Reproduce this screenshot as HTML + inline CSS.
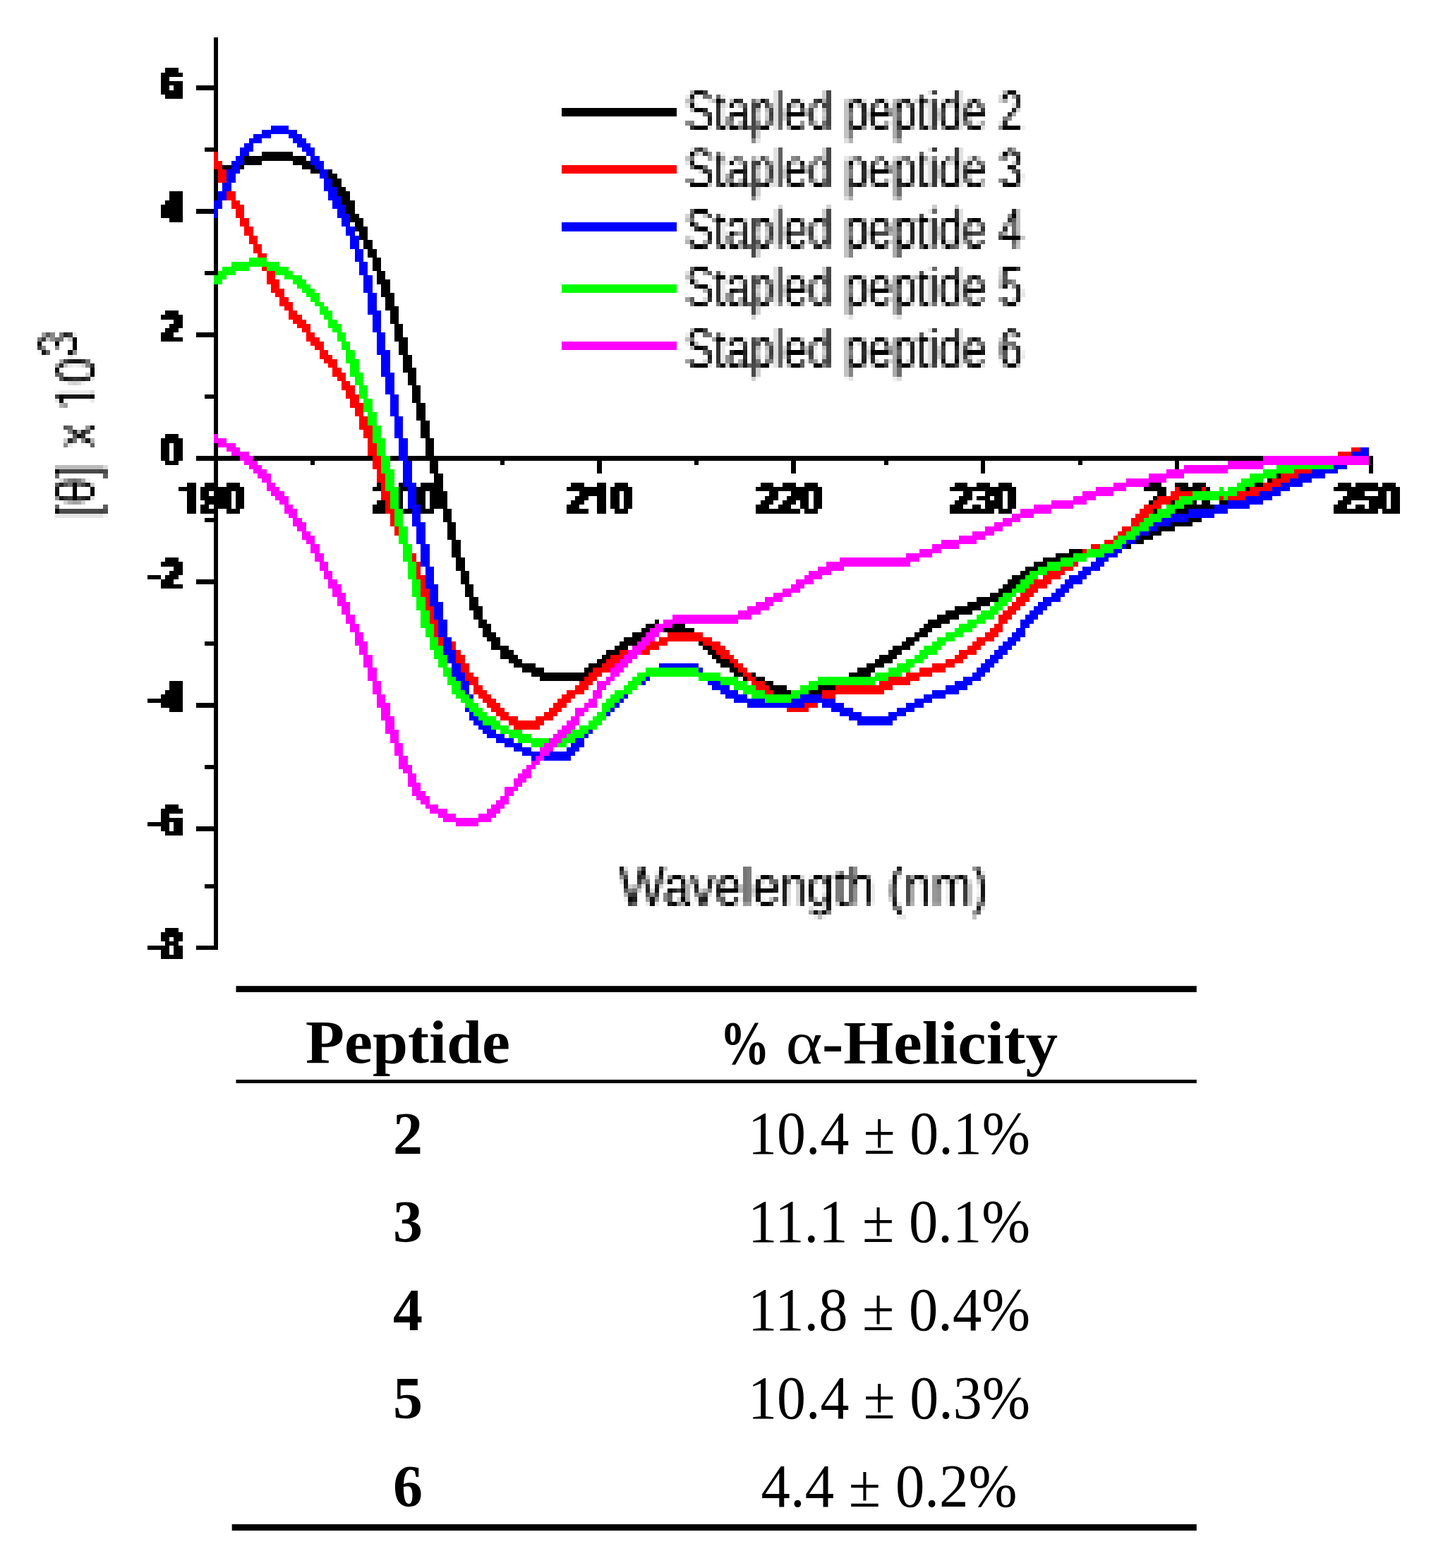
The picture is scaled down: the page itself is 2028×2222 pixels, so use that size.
<!DOCTYPE html>
<html lang="en">
<head>
<meta charset="utf-8">
<title>CD spectra of stapled peptides</title>
<style>
html,body{margin:0;padding:0;background:#fff}
svg{display:block}
.tk{font-family:"Liberation Sans", Arial, sans-serif;font-weight:bold;font-size:60px;fill:#000;stroke:#000;stroke-width:0.6px}
.lg{font-family:"Liberation Sans", Arial, sans-serif;font-size:77px;fill:#000}
.th{font-family:"Liberation Serif", "Times New Roman", serif;font-weight:bold;font-size:87px;fill:#000}
.td{font-family:"Liberation Serif", "Times New Roman", serif;font-size:87px;fill:#000}
</style>
</head>
<body>
<svg width="2028" height="2222" viewBox="0 0 2028 2222">
<defs>
<filter id="pb" filterUnits="userSpaceOnUse" primitiveUnits="userSpaceOnUse" x="0" y="0" width="2028" height="1390" color-interpolation-filters="sRGB">
<feGaussianBlur in="SourceGraphic" stdDeviation="0.7" result="b"/>
<feComponentTransfer in="b" result="t"><feFuncA type="discrete" tableValues="0 0 0 0 1 1 1 1 1 1"/></feComponentTransfer>
<feFlood x="6" y="6" width="1" height="1" flood-color="#000" result="pba00"/><feFlood x="12" y="6" width="1" height="1" flood-color="#000" result="pba01"/><feFlood x="18" y="6" width="1" height="1" flood-color="#000" result="pba02"/><feFlood x="24" y="6" width="1" height="1" flood-color="#000" result="pba03"/><feFlood x="6" y="12" width="1" height="1" flood-color="#000" result="pba10"/><feFlood x="12" y="12" width="1" height="1" flood-color="#000" result="pba11"/><feFlood x="18" y="12" width="1" height="1" flood-color="#000" result="pba12"/><feFlood x="24" y="12" width="1" height="1" flood-color="#000" result="pba13"/><feFlood x="6" y="18" width="1" height="1" flood-color="#000" result="pba20"/><feFlood x="12" y="18" width="1" height="1" flood-color="#000" result="pba21"/><feFlood x="18" y="18" width="1" height="1" flood-color="#000" result="pba22"/><feFlood x="24" y="18" width="1" height="1" flood-color="#000" result="pba23"/><feFlood x="6" y="24" width="1" height="1" flood-color="#000" result="pba30"/><feFlood x="12" y="24" width="1" height="1" flood-color="#000" result="pba31"/><feFlood x="18" y="24" width="1" height="1" flood-color="#000" result="pba32"/><feFlood x="24" y="24" width="1" height="1" flood-color="#000" result="pba33"/>
<feMerge x="3" y="3" width="25" height="25" result="da"><feMergeNode in="pba00"/><feMergeNode in="pba01"/><feMergeNode in="pba02"/><feMergeNode in="pba03"/><feMergeNode in="pba10"/><feMergeNode in="pba11"/><feMergeNode in="pba12"/><feMergeNode in="pba13"/><feMergeNode in="pba20"/><feMergeNode in="pba21"/><feMergeNode in="pba22"/><feMergeNode in="pba23"/><feMergeNode in="pba30"/><feMergeNode in="pba31"/><feMergeNode in="pba32"/><feMergeNode in="pba33"/></feMerge>
<feTile in="da" x="0" y="0" width="2028" height="1390" result="ga"/>
<feComposite in="t" in2="ga" operator="in" result="s0"/>
<feOffset in="s0" dx="6" dy="0" result="o1"/>
<feMorphology in="o1" operator="dilate" radius="1" result="o2"/>
<feComposite in="o2" in2="ga" operator="in" result="o3"/>
<feMerge result="s0m"><feMergeNode in="s0"/><feMergeNode in="o3"/></feMerge>
<feMorphology in="s0m" operator="dilate" radius="1" result="s1"/>
<feFlood x="5" y="5" width="2" height="2" flood-color="#000" result="pbb00"/><feFlood x="11" y="5" width="2" height="2" flood-color="#000" result="pbb01"/><feFlood x="17" y="5" width="2" height="2" flood-color="#000" result="pbb02"/><feFlood x="23" y="5" width="3" height="2" flood-color="#000" result="pbb03"/><feFlood x="5" y="11" width="2" height="2" flood-color="#000" result="pbb10"/><feFlood x="11" y="11" width="2" height="2" flood-color="#000" result="pbb11"/><feFlood x="17" y="11" width="2" height="2" flood-color="#000" result="pbb12"/><feFlood x="23" y="11" width="3" height="2" flood-color="#000" result="pbb13"/><feFlood x="5" y="17" width="2" height="2" flood-color="#000" result="pbb20"/><feFlood x="11" y="17" width="2" height="2" flood-color="#000" result="pbb21"/><feFlood x="17" y="17" width="2" height="2" flood-color="#000" result="pbb22"/><feFlood x="23" y="17" width="3" height="2" flood-color="#000" result="pbb23"/><feFlood x="5" y="23" width="2" height="3" flood-color="#000" result="pbb30"/><feFlood x="11" y="23" width="2" height="3" flood-color="#000" result="pbb31"/><feFlood x="17" y="23" width="2" height="3" flood-color="#000" result="pbb32"/><feFlood x="23" y="23" width="3" height="3" flood-color="#000" result="pbb33"/>
<feMerge x="3" y="3" width="25" height="25" result="db"><feMergeNode in="pbb00"/><feMergeNode in="pbb01"/><feMergeNode in="pbb02"/><feMergeNode in="pbb03"/><feMergeNode in="pbb10"/><feMergeNode in="pbb11"/><feMergeNode in="pbb12"/><feMergeNode in="pbb13"/><feMergeNode in="pbb20"/><feMergeNode in="pbb21"/><feMergeNode in="pbb22"/><feMergeNode in="pbb23"/><feMergeNode in="pbb30"/><feMergeNode in="pbb31"/><feMergeNode in="pbb32"/><feMergeNode in="pbb33"/></feMerge>
<feTile in="db" x="0" y="0" width="2028" height="1390" result="gb"/>
<feComposite in="s1" in2="gb" operator="in" result="s2"/>
<feMorphology in="s2" operator="dilate" radius="2"/>
</filter>
<filter id="pg" filterUnits="userSpaceOnUse" primitiveUnits="userSpaceOnUse" x="0" y="0" width="2028" height="1390" color-interpolation-filters="sRGB">
<feGaussianBlur in="SourceGraphic" stdDeviation="2.2 1.1" result="b"/>
<feComponentTransfer in="b" result="t"><feFuncA type="linear" slope="1.2" intercept="-0.08"/></feComponentTransfer>
<feFlood x="6" y="6" width="1" height="1" flood-color="#000" result="pga00"/><feFlood x="12" y="6" width="1" height="1" flood-color="#000" result="pga01"/><feFlood x="18" y="6" width="1" height="1" flood-color="#000" result="pga02"/><feFlood x="24" y="6" width="1" height="1" flood-color="#000" result="pga03"/><feFlood x="6" y="12" width="1" height="1" flood-color="#000" result="pga10"/><feFlood x="12" y="12" width="1" height="1" flood-color="#000" result="pga11"/><feFlood x="18" y="12" width="1" height="1" flood-color="#000" result="pga12"/><feFlood x="24" y="12" width="1" height="1" flood-color="#000" result="pga13"/><feFlood x="6" y="18" width="1" height="1" flood-color="#000" result="pga20"/><feFlood x="12" y="18" width="1" height="1" flood-color="#000" result="pga21"/><feFlood x="18" y="18" width="1" height="1" flood-color="#000" result="pga22"/><feFlood x="24" y="18" width="1" height="1" flood-color="#000" result="pga23"/><feFlood x="6" y="24" width="1" height="1" flood-color="#000" result="pga30"/><feFlood x="12" y="24" width="1" height="1" flood-color="#000" result="pga31"/><feFlood x="18" y="24" width="1" height="1" flood-color="#000" result="pga32"/><feFlood x="24" y="24" width="1" height="1" flood-color="#000" result="pga33"/>
<feMerge x="3" y="3" width="25" height="25" result="da"><feMergeNode in="pga00"/><feMergeNode in="pga01"/><feMergeNode in="pga02"/><feMergeNode in="pga03"/><feMergeNode in="pga10"/><feMergeNode in="pga11"/><feMergeNode in="pga12"/><feMergeNode in="pga13"/><feMergeNode in="pga20"/><feMergeNode in="pga21"/><feMergeNode in="pga22"/><feMergeNode in="pga23"/><feMergeNode in="pga30"/><feMergeNode in="pga31"/><feMergeNode in="pga32"/><feMergeNode in="pga33"/></feMerge>
<feTile in="da" x="0" y="0" width="2028" height="1390" result="ga"/>
<feComposite in="t" in2="ga" operator="in" result="s0"/>
<feMorphology in="s0" operator="dilate" radius="1" result="s1"/>
<feFlood x="5" y="5" width="2" height="2" flood-color="#000" result="pgb00"/><feFlood x="11" y="5" width="2" height="2" flood-color="#000" result="pgb01"/><feFlood x="17" y="5" width="2" height="2" flood-color="#000" result="pgb02"/><feFlood x="23" y="5" width="3" height="2" flood-color="#000" result="pgb03"/><feFlood x="5" y="11" width="2" height="2" flood-color="#000" result="pgb10"/><feFlood x="11" y="11" width="2" height="2" flood-color="#000" result="pgb11"/><feFlood x="17" y="11" width="2" height="2" flood-color="#000" result="pgb12"/><feFlood x="23" y="11" width="3" height="2" flood-color="#000" result="pgb13"/><feFlood x="5" y="17" width="2" height="2" flood-color="#000" result="pgb20"/><feFlood x="11" y="17" width="2" height="2" flood-color="#000" result="pgb21"/><feFlood x="17" y="17" width="2" height="2" flood-color="#000" result="pgb22"/><feFlood x="23" y="17" width="3" height="2" flood-color="#000" result="pgb23"/><feFlood x="5" y="23" width="2" height="3" flood-color="#000" result="pgb30"/><feFlood x="11" y="23" width="2" height="3" flood-color="#000" result="pgb31"/><feFlood x="17" y="23" width="2" height="3" flood-color="#000" result="pgb32"/><feFlood x="23" y="23" width="3" height="3" flood-color="#000" result="pgb33"/>
<feMerge x="3" y="3" width="25" height="25" result="db"><feMergeNode in="pgb00"/><feMergeNode in="pgb01"/><feMergeNode in="pgb02"/><feMergeNode in="pgb03"/><feMergeNode in="pgb10"/><feMergeNode in="pgb11"/><feMergeNode in="pgb12"/><feMergeNode in="pgb13"/><feMergeNode in="pgb20"/><feMergeNode in="pgb21"/><feMergeNode in="pgb22"/><feMergeNode in="pgb23"/><feMergeNode in="pgb30"/><feMergeNode in="pgb31"/><feMergeNode in="pgb32"/><feMergeNode in="pgb33"/></feMerge>
<feTile in="db" x="0" y="0" width="2028" height="1390" result="gb"/>
<feComposite in="s1" in2="gb" operator="in" result="s2"/>
<feMorphology in="s2" operator="dilate" radius="2"/>
</filter>
<mask id="foot" maskUnits="userSpaceOnUse" x="0" y="600" width="2028" height="200">
<rect x="0" y="600" width="2028" height="200" fill="#fff"/>
<rect x="250.00" y="720.25" width="14.70" height="11.25" fill="#000"/>
<rect x="272.55" y="720.25" width="8.25" height="11.25" fill="#000"/>
<rect x="831.25" y="720.25" width="14.70" height="11.25" fill="#000"/>
<rect x="853.80" y="720.25" width="8.25" height="11.25" fill="#000"/>
</mask>
<mask id="foot2" maskUnits="userSpaceOnUse" x="0" y="400" width="200" height="400"><rect x="0" y="400" width="200" height="400" fill="#fff"/><rect x="126" y="543" width="10" height="15.5" fill="#000"/><rect x="126" y="566" width="10" height="14" fill="#000"/></mask>
<filter id="pv" filterUnits="userSpaceOnUse" primitiveUnits="userSpaceOnUse" x="0" y="0" width="2028" height="1390" color-interpolation-filters="sRGB">
<feGaussianBlur in="SourceGraphic" stdDeviation="1.1 2.2" result="b"/>
<feComponentTransfer in="b" result="t"><feFuncA type="linear" slope="1.2" intercept="-0.08"/></feComponentTransfer>
<feFlood x="6" y="6" width="1" height="1" flood-color="#000" result="pva00"/><feFlood x="12" y="6" width="1" height="1" flood-color="#000" result="pva01"/><feFlood x="18" y="6" width="1" height="1" flood-color="#000" result="pva02"/><feFlood x="24" y="6" width="1" height="1" flood-color="#000" result="pva03"/><feFlood x="6" y="12" width="1" height="1" flood-color="#000" result="pva10"/><feFlood x="12" y="12" width="1" height="1" flood-color="#000" result="pva11"/><feFlood x="18" y="12" width="1" height="1" flood-color="#000" result="pva12"/><feFlood x="24" y="12" width="1" height="1" flood-color="#000" result="pva13"/><feFlood x="6" y="18" width="1" height="1" flood-color="#000" result="pva20"/><feFlood x="12" y="18" width="1" height="1" flood-color="#000" result="pva21"/><feFlood x="18" y="18" width="1" height="1" flood-color="#000" result="pva22"/><feFlood x="24" y="18" width="1" height="1" flood-color="#000" result="pva23"/><feFlood x="6" y="24" width="1" height="1" flood-color="#000" result="pva30"/><feFlood x="12" y="24" width="1" height="1" flood-color="#000" result="pva31"/><feFlood x="18" y="24" width="1" height="1" flood-color="#000" result="pva32"/><feFlood x="24" y="24" width="1" height="1" flood-color="#000" result="pva33"/>
<feMerge x="3" y="3" width="25" height="25" result="da"><feMergeNode in="pva00"/><feMergeNode in="pva01"/><feMergeNode in="pva02"/><feMergeNode in="pva03"/><feMergeNode in="pva10"/><feMergeNode in="pva11"/><feMergeNode in="pva12"/><feMergeNode in="pva13"/><feMergeNode in="pva20"/><feMergeNode in="pva21"/><feMergeNode in="pva22"/><feMergeNode in="pva23"/><feMergeNode in="pva30"/><feMergeNode in="pva31"/><feMergeNode in="pva32"/><feMergeNode in="pva33"/></feMerge>
<feTile in="da" x="0" y="0" width="2028" height="1390" result="ga"/>
<feComposite in="t" in2="ga" operator="in" result="s0"/>
<feMorphology in="s0" operator="dilate" radius="1" result="s1"/>
<feFlood x="5" y="5" width="2" height="2" flood-color="#000" result="pvb00"/><feFlood x="11" y="5" width="2" height="2" flood-color="#000" result="pvb01"/><feFlood x="17" y="5" width="2" height="2" flood-color="#000" result="pvb02"/><feFlood x="23" y="5" width="3" height="2" flood-color="#000" result="pvb03"/><feFlood x="5" y="11" width="2" height="2" flood-color="#000" result="pvb10"/><feFlood x="11" y="11" width="2" height="2" flood-color="#000" result="pvb11"/><feFlood x="17" y="11" width="2" height="2" flood-color="#000" result="pvb12"/><feFlood x="23" y="11" width="3" height="2" flood-color="#000" result="pvb13"/><feFlood x="5" y="17" width="2" height="2" flood-color="#000" result="pvb20"/><feFlood x="11" y="17" width="2" height="2" flood-color="#000" result="pvb21"/><feFlood x="17" y="17" width="2" height="2" flood-color="#000" result="pvb22"/><feFlood x="23" y="17" width="3" height="2" flood-color="#000" result="pvb23"/><feFlood x="5" y="23" width="2" height="3" flood-color="#000" result="pvb30"/><feFlood x="11" y="23" width="2" height="3" flood-color="#000" result="pvb31"/><feFlood x="17" y="23" width="2" height="3" flood-color="#000" result="pvb32"/><feFlood x="23" y="23" width="3" height="3" flood-color="#000" result="pvb33"/>
<feMerge x="3" y="3" width="25" height="25" result="db"><feMergeNode in="pvb00"/><feMergeNode in="pvb01"/><feMergeNode in="pvb02"/><feMergeNode in="pvb03"/><feMergeNode in="pvb10"/><feMergeNode in="pvb11"/><feMergeNode in="pvb12"/><feMergeNode in="pvb13"/><feMergeNode in="pvb20"/><feMergeNode in="pvb21"/><feMergeNode in="pvb22"/><feMergeNode in="pvb23"/><feMergeNode in="pvb30"/><feMergeNode in="pvb31"/><feMergeNode in="pvb32"/><feMergeNode in="pvb33"/></feMerge>
<feTile in="db" x="0" y="0" width="2028" height="1390" result="gb"/>
<feComposite in="s1" in2="gb" operator="in" result="s2"/>
<feMorphology in="s2" operator="dilate" radius="2"/>
</filter>
</defs>
<rect width="2028" height="2222" fill="#ffffff"/>
<g class="tk" filter="url(#pb)">
<text transform="scale(0.877 1)" x="258.04" y="140.10">6</text>
<text transform="scale(0.877 1)" x="258.04" y="315.10">4</text>
<text transform="scale(0.877 1)" x="258.04" y="483.85">2</text>
<text transform="scale(0.877 1)" x="258.04" y="658.85">0</text>
<text transform="scale(0.877 1)" x="236.66 258.04" y="833.85">-2</text>
<text transform="scale(0.877 1)" x="236.66 258.04" y="1008.85">-4</text>
<text transform="scale(0.877 1)" x="236.66 258.04" y="1183.85">-6</text>
<text transform="scale(0.877 1)" x="236.66 258.04" y="1358.85">-8</text>
<g mask="url(#foot)"><text transform="scale(0.877 1)" x="286.55 322.18 357.81" y="727.60">190</text></g>
<text transform="scale(0.877 1)" x="600.11 635.75 671.38" y="727.60">200</text>
<g mask="url(#foot)"><text transform="scale(0.877 1)" x="913.68 949.32 984.95" y="727.60">210</text></g>
<text transform="scale(0.877 1)" x="1220.13 1255.76 1291.39" y="727.60">220</text>
<text transform="scale(0.877 1)" x="1533.69 1569.33 1604.96" y="727.60">230</text>
<text transform="scale(0.877 1)" x="1847.26 1882.90 1918.53" y="727.60">240</text>
<text transform="scale(0.877 1)" x="2153.71 2189.34 2224.97" y="727.60">250</text>
</g>
<g shape-rendering="crispEdges">
<path d="M303 53h6v1293h-6zM278 646h1668v7h-1668zM278 121h25v7h-25zM278 296h25v7h-25zM278 471h25v7h-25zM278 646h25v7h-25zM278 821h25v7h-25zM278 996h25v7h-25zM278 1171h25v7h-25zM278 1340h25v6h-25zM290 209h13v6h-13zM290 384h13v6h-13zM290 559h13v6h-13zM290 734h13v6h-13zM290 909h13v6h-13zM290 1084h13v6h-13zM290 1253h13v6h-13zM578 653h6v18h-6zM846 653h7v18h-7zM1121 653h7v18h-7zM1390 653h6v18h-6zM1665 653h6v18h-6zM1940 653h6v18h-6zM440 653h6v6h-6zM709 653h6v6h-6zM984 653h6v6h-6zM1253 653h6v6h-6zM1528 653h6v6h-6zM1803 653h6v6h-6z" fill="#000"/>
<path d="M796 153h163v12h-163z" fill="#000000"/>
<path d="M796 234h163v12h-163z" fill="#ff0000"/>
<path d="M796 315h163v13h-163z" fill="#0000ff"/>
<path d="M796 403h163v12h-163z" fill="#00ff00"/>
<path d="M796 484h163v12h-163z" fill="#ff00ff"/>
<path d="M371 215h44v6h-44zM346 221h88v7h-88zM328 228h43v6h-43zM415 228h25v6h-25zM315 234h31v6h-31zM428 234h25v6h-25zM303 240h25v6h-25zM440 240h31v6h-31zM303 246h12v7h-12zM453 246h25v7h-25zM465 253h19v6h-19zM471 259h13v6h-13zM478 265h12v6h-12zM478 271h18v7h-18zM484 278h12v6h-12zM484 284h19v6h-19zM490 290h13v6h-13zM490 296h13v7h-13zM496 303h13v6h-13zM496 309h19v6h-19zM503 315h12v6h-12zM503 321h18v7h-18zM509 328h12v6h-12zM509 334h12v6h-12zM515 340h13v6h-13zM515 346h13v7h-13zM521 353h13v6h-13zM521 359h13v6h-13zM528 365h12v6h-12zM528 371h12v7h-12zM528 378h12v6h-12zM534 384h12v6h-12zM534 390h12v6h-12zM534 396h19v7h-19zM540 403h13v6h-13zM540 409h13v6h-13zM540 415h19v6h-19zM546 421h13v7h-13zM546 428h13v6h-13zM546 434h19v6h-19zM553 440h12v6h-12zM553 446h12v7h-12zM553 453h12v6h-12zM559 459h12v6h-12zM559 465h12v6h-12zM559 471h12v7h-12zM559 478h19v6h-19zM565 484h13v6h-13zM565 490h13v6h-13zM565 496h13v7h-13zM571 503h13v6h-13zM571 509h13v6h-13zM571 515h13v6h-13zM571 521h19v7h-19zM578 528h12v6h-12zM578 534h12v6h-12zM578 540h12v6h-12zM584 546h12v7h-12zM584 553h12v6h-12zM584 559h12v6h-12zM584 565h12v6h-12zM590 571h13v7h-13zM590 578h13v6h-13zM590 584h13v6h-13zM590 590h13v6h-13zM596 596h13v7h-13zM596 603h13v6h-13zM596 609h13v6h-13zM596 615h13v6h-13zM603 621h12v7h-12zM603 628h12v6h-12zM603 634h12v6h-12zM603 640h12v6h-12zM609 646h12v7h-12zM609 653h12v6h-12zM609 659h12v6h-12zM609 665h12v6h-12zM1828 665h18v6h-18zM615 671h13v7h-13zM1809 671h44v7h-44zM615 678h13v6h-13zM1796 678h32v6h-32zM615 684h13v6h-13zM1778 684h31v6h-31zM615 690h13v6h-13zM1765 690h31v6h-31zM621 696h13v7h-13zM1753 696h31v7h-31zM621 703h13v6h-13zM1734 703h37v6h-37zM621 709h13v6h-13zM1728 709h25v6h-25zM621 715h13v6h-13zM1696 715h13v6h-13zM1715 715h25v6h-25zM628 721h12v7h-12zM1690 721h38v7h-38zM628 728h12v6h-12zM1690 728h31v6h-31zM628 734h12v6h-12zM1665 734h38v6h-38zM634 740h12v6h-12zM1646 740h44v6h-44zM634 746h12v7h-12zM1628 746h37v7h-37zM634 753h12v6h-12zM1615 753h31v6h-31zM634 759h12v6h-12zM1603 759h31v6h-31zM640 765h13v6h-13zM1571 765h50v6h-50zM640 771h13v7h-13zM1546 771h57v7h-57zM640 778h13v6h-13zM1515 778h56v6h-56zM640 784h13v6h-13zM1496 784h50v6h-50zM646 790h13v6h-13zM1478 790h43v6h-43zM646 796h13v7h-13zM1465 796h31v7h-31zM646 803h13v6h-13zM1453 803h25v6h-25zM653 809h12v6h-12zM1446 809h25v6h-25zM653 815h12v6h-12zM1434 815h25v6h-25zM653 821h12v7h-12zM1428 821h18v7h-18zM659 828h12v6h-12zM1421 828h19v6h-19zM659 834h12v6h-12zM1415 834h19v6h-19zM659 840h12v6h-12zM1403 840h18v6h-18zM665 846h13v7h-13zM1384 846h31v7h-31zM665 853h13v6h-13zM1371 853h32v6h-32zM665 859h19v6h-19zM1353 859h37v6h-37zM671 865h13v6h-13zM1340 865h38v6h-38zM671 871h13v7h-13zM1328 871h31v7h-31zM678 878h12v6h-12zM928 878h6v6h-6zM1315 878h31v6h-31zM678 884h18v6h-18zM915 884h56v6h-56zM1309 884h25v6h-25zM684 890h12v6h-12zM909 890h19v6h-19zM934 890h50v6h-50zM1303 890h18v6h-18zM684 896h19v7h-19zM896 896h25v7h-25zM971 896h25v7h-25zM1296 896h19v7h-19zM690 903h19v6h-19zM884 903h25v6h-25zM984 903h19v6h-19zM1284 903h19v6h-19zM696 909h13v6h-13zM878 909h25v6h-25zM990 909h19v6h-19zM1278 909h18v6h-18zM696 915h25v6h-25zM871 915h19v6h-19zM996 915h19v6h-19zM1265 915h25v6h-25zM709 921h19v7h-19zM859 921h19v7h-19zM1003 921h18v7h-18zM1259 921h19v7h-19zM709 928h25v6h-25zM853 928h18v6h-18zM1009 928h19v6h-19zM1246 928h25v6h-25zM721 934h19v6h-19zM846 934h19v6h-19zM1015 934h19v6h-19zM1240 934h25v6h-25zM728 940h31v6h-31zM834 940h25v6h-25zM1021 940h25v6h-25zM1228 940h25v6h-25zM740 946h31v7h-31zM828 946h18v7h-18zM1034 946h19v7h-19zM1215 946h25v7h-25zM753 953h87v6h-87zM1040 953h31v6h-31zM1203 953h31v6h-31zM765 959h69v6h-69zM1053 959h31v6h-31zM1190 959h31v6h-31zM1071 965h25v6h-25zM1171 965h38v6h-38zM1084 971h31v7h-31zM1153 971h37v7h-37zM1090 978h88v6h-88zM1109 984h44v6h-44z" fill="#000000"/>
<path d="M303 215h6v6h-6zM303 221h6v7h-6zM303 228h12v6h-12zM303 234h12v6h-12zM309 240h12v6h-12zM309 246h12v7h-12zM309 253h19v6h-19zM315 259h13v6h-13zM315 265h13v6h-13zM321 271h13v7h-13zM321 278h13v6h-13zM328 284h12v6h-12zM328 290h18v6h-18zM334 296h12v7h-12zM334 303h12v6h-12zM340 309h13v6h-13zM340 315h13v6h-13zM346 321h13v7h-13zM346 328h13v6h-13zM353 334h12v6h-12zM353 340h12v6h-12zM359 346h12v7h-12zM359 353h12v6h-12zM365 359h13v6h-13zM365 365h13v6h-13zM371 371h13v7h-13zM371 378h13v6h-13zM378 384h12v6h-12zM378 390h12v6h-12zM378 396h18v7h-18zM384 403h12v6h-12zM384 409h19v6h-19zM390 415h13v6h-13zM396 421h13v7h-13zM396 428h19v6h-19zM403 434h12v6h-12zM409 440h12v6h-12zM409 446h19v7h-19zM415 453h19v6h-19zM421 459h19v6h-19zM428 465h12v6h-12zM434 471h12v7h-12zM434 478h19v6h-19zM440 484h19v6h-19zM446 490h13v6h-13zM453 496h12v7h-12zM453 503h18v6h-18zM459 509h19v6h-19zM465 515h13v6h-13zM471 521h13v7h-13zM471 528h19v6h-19zM478 534h12v6h-12zM484 540h12v6h-12zM484 546h19v7h-19zM490 553h13v6h-13zM490 559h19v6h-19zM496 565h13v6h-13zM496 571h19v7h-19zM503 578h12v6h-12zM503 584h12v6h-12zM509 590h12v6h-12zM509 596h12v7h-12zM509 603h19v6h-19zM515 609h13v6h-13zM515 615h13v6h-13zM521 621h13v7h-13zM521 628h13v6h-13zM521 634h13v6h-13zM1915 634h25v6h-25zM521 640h19v6h-19zM1896 640h44v6h-44zM528 646h12v7h-12zM1878 646h37v7h-37zM528 653h12v6h-12zM1859 653h37v6h-37zM528 659h12v6h-12zM1846 659h32v6h-32zM534 665h12v6h-12zM1828 665h37v6h-37zM534 671h12v7h-12zM1815 671h31v7h-31zM534 678h12v6h-12zM1803 678h31v6h-31zM540 684h13v6h-13zM1790 684h31v6h-31zM540 690h13v6h-13zM1665 690h6v6h-6zM1703 690h6v6h-6zM1771 690h32v6h-32zM540 696h13v7h-13zM1659 696h131v7h-131zM540 703h19v6h-19zM1640 703h63v6h-63zM1709 703h62v6h-62zM546 709h13v6h-13zM1634 709h25v6h-25zM546 715h13v6h-13zM1621 715h25v6h-25zM546 721h13v7h-13zM1615 721h19v7h-19zM553 728h12v6h-12zM1609 728h19v6h-19zM553 734h12v6h-12zM1603 734h18v6h-18zM553 740h12v6h-12zM1603 740h12v6h-12zM559 746h12v7h-12zM1590 746h19v7h-19zM559 753h12v6h-12zM1584 753h19v6h-19zM565 759h13v6h-13zM1578 759h18v6h-18zM565 765h13v6h-13zM1565 765h25v6h-25zM571 771h13v7h-13zM1546 771h32v7h-32zM571 778h13v6h-13zM1534 778h31v6h-31zM578 784h12v6h-12zM1528 784h25v6h-25zM578 790h12v6h-12zM1515 790h25v6h-25zM584 796h12v7h-12zM1509 796h19v7h-19zM584 803h12v6h-12zM1496 803h25v6h-25zM584 809h12v6h-12zM1484 809h25v6h-25zM584 815h19v6h-19zM1478 815h25v6h-25zM590 821h13v7h-13zM1465 821h25v7h-25zM590 828h19v6h-19zM1459 828h25v6h-25zM596 834h13v6h-13zM1453 834h18v6h-18zM596 840h13v6h-13zM1446 840h19v6h-19zM596 846h13v7h-13zM1440 846h19v7h-19zM603 853h12v6h-12zM1434 853h19v6h-19zM603 859h12v6h-12zM1428 859h18v6h-18zM603 865h12v6h-12zM1421 865h19v6h-19zM609 871h12v7h-12zM1415 871h19v7h-19zM609 878h12v6h-12zM1415 878h13v6h-13zM609 884h19v6h-19zM1409 884h12v6h-12zM615 890h13v6h-13zM1403 890h18v6h-18zM615 896h13v7h-13zM946 896h50v7h-50zM1396 896h19v7h-19zM615 903h19v6h-19zM934 903h75v6h-75zM1384 903h25v6h-25zM621 909h25v6h-25zM921 909h25v6h-25zM996 909h25v6h-25zM1378 909h18v6h-18zM634 915h12v6h-12zM903 915h31v6h-31zM1009 915h19v6h-19zM1371 915h19v6h-19zM640 921h13v7h-13zM878 921h43v7h-43zM1015 921h19v7h-19zM1359 921h25v7h-25zM640 928h19v6h-19zM865 928h38v6h-38zM1021 928h19v6h-19zM1353 928h18v6h-18zM646 934h13v6h-13zM859 934h19v6h-19zM1034 934h12v6h-12zM1340 934h25v6h-25zM646 940h19v6h-19zM853 940h18v6h-18zM1040 940h13v6h-13zM1321 940h32v6h-32zM653 946h12v7h-12zM840 946h25v7h-25zM1046 946h13v7h-13zM1303 946h37v7h-37zM659 953h12v6h-12zM834 953h19v6h-19zM1053 953h12v6h-12zM1284 953h37v6h-37zM659 959h19v6h-19zM828 959h18v6h-18zM1059 959h12v6h-12zM1259 959h44v6h-44zM665 965h13v6h-13zM821 965h19v6h-19zM1065 965h19v6h-19zM1246 965h44v6h-44zM671 971h13v7h-13zM815 971h19v7h-19zM1071 971h19v7h-19zM1184 971h81v7h-81zM671 978h19v6h-19zM803 978h25v6h-25zM1078 978h18v6h-18zM1165 978h88v6h-88zM678 984h18v6h-18zM796 984h19v6h-19zM1084 984h19v6h-19zM1153 984h31v6h-31zM684 990h19v6h-19zM790 990h19v6h-19zM1090 990h25v6h-25zM1140 990h25v6h-25zM690 996h19v7h-19zM784 996h19v7h-19zM1103 996h56v7h-56zM696 1003h19v6h-19zM778 1003h18v6h-18zM1115 1003h31v6h-31zM703 1009h18v6h-18zM771 1009h19v6h-19zM709 1015h25v6h-25zM759 1015h25v6h-25zM721 1021h50v7h-50zM728 1028h37v6h-37z" fill="#ff0000"/>
<path d="M384 178h25v6h-25zM371 184h50v6h-50zM359 190h25v6h-25zM409 190h19v6h-19zM353 196h18v7h-18zM415 196h19v7h-19zM346 203h13v6h-13zM421 203h19v6h-19zM340 209h19v6h-19zM428 209h18v6h-18zM340 215h13v6h-13zM434 215h12v6h-12zM334 221h12v7h-12zM440 221h13v7h-13zM328 228h18v6h-18zM440 228h19v6h-19zM328 234h12v6h-12zM446 234h13v6h-13zM321 240h19v6h-19zM453 240h12v6h-12zM321 246h13v7h-13zM453 246h12v7h-12zM321 253h13v6h-13zM459 253h12v6h-12zM315 259h13v6h-13zM459 259h12v6h-12zM315 265h13v6h-13zM459 265h19v6h-19zM309 271h12v7h-12zM465 271h13v7h-13zM309 278h12v6h-12zM465 278h19v6h-19zM303 284h12v6h-12zM471 284h13v6h-13zM303 290h12v6h-12zM471 290h19v6h-19zM303 296h6v7h-6zM478 296h12v7h-12zM303 303h6v6h-6zM478 303h18v6h-18zM484 309h12v6h-12zM484 315h12v6h-12zM490 321h13v7h-13zM490 328h13v6h-13zM496 334h13v6h-13zM496 340h13v6h-13zM496 346h13v7h-13zM503 353h12v6h-12zM503 359h12v6h-12zM503 365h12v6h-12zM509 371h12v7h-12zM509 378h12v6h-12zM509 384h12v6h-12zM515 390h13v6h-13zM515 396h13v7h-13zM515 403h13v6h-13zM515 409h13v6h-13zM521 415h13v6h-13zM521 421h13v7h-13zM521 428h13v6h-13zM521 434h13v6h-13zM521 440h19v6h-19zM528 446h12v7h-12zM528 453h12v6h-12zM528 459h12v6h-12zM528 465h12v6h-12zM534 471h12v7h-12zM534 478h12v6h-12zM534 484h12v6h-12zM534 490h12v6h-12zM534 496h19v7h-19zM540 503h13v6h-13zM540 509h13v6h-13zM540 515h13v6h-13zM540 521h13v7h-13zM540 528h19v6h-19zM546 534h13v6h-13zM546 540h13v6h-13zM546 546h13v7h-13zM546 553h13v6h-13zM553 559h12v6h-12zM553 565h12v6h-12zM553 571h12v7h-12zM553 578h12v6h-12zM553 584h12v6h-12zM559 590h12v6h-12zM559 596h12v7h-12zM559 603h12v6h-12zM559 609h12v6h-12zM559 615h12v6h-12zM565 621h13v7h-13zM565 628h13v6h-13zM565 634h13v6h-13zM1928 634h12v6h-12zM565 640h13v6h-13zM1915 640h25v6h-25zM565 646h13v7h-13zM1909 646h19v7h-19zM571 653h13v6h-13zM1896 653h25v6h-25zM571 659h13v6h-13zM1878 659h31v6h-31zM571 665h13v6h-13zM1859 665h37v6h-37zM571 671h13v7h-13zM1840 671h38v7h-38zM571 678h13v6h-13zM1828 678h31v6h-31zM571 684h19v6h-19zM1815 684h31v6h-31zM578 690h12v6h-12zM1803 690h25v6h-25zM578 696h12v7h-12zM1784 696h31v7h-31zM578 703h12v6h-12zM1765 703h38v6h-38zM578 709h12v6h-12zM1740 709h50v6h-50zM578 715h18v6h-18zM1721 715h50v6h-50zM584 721h12v7h-12zM1684 721h56v7h-56zM584 728h12v6h-12zM1659 728h62v6h-62zM584 734h12v6h-12zM1640 734h44v6h-44zM584 740h19v6h-19zM1621 740h38v6h-38zM590 746h13v7h-13zM1615 746h25v7h-25zM590 753h13v6h-13zM1603 753h25v6h-25zM590 759h13v6h-13zM1590 759h25v6h-25zM590 765h13v6h-13zM1584 765h25v6h-25zM596 771h13v7h-13zM1578 771h18v7h-18zM596 778h13v6h-13zM1565 778h25v6h-25zM596 784h13v6h-13zM1559 784h25v6h-25zM596 790h13v6h-13zM1553 790h18v6h-18zM596 796h13v7h-13zM1546 796h19v7h-19zM603 803h12v6h-12zM1534 803h25v6h-25zM603 809h12v6h-12zM1528 809h18v6h-18zM603 815h12v6h-12zM1515 815h25v6h-25zM603 821h12v7h-12zM1509 821h25v7h-25zM603 828h18v6h-18zM1503 828h18v6h-18zM609 834h12v6h-12zM1496 834h19v6h-19zM609 840h12v6h-12zM1490 840h19v6h-19zM609 846h12v7h-12zM1478 846h25v7h-25zM609 853h19v6h-19zM1471 853h19v6h-19zM615 859h13v6h-13zM1465 859h19v6h-19zM615 865h13v6h-13zM1459 865h19v6h-19zM615 871h13v7h-13zM1453 871h18v7h-18zM621 878h13v6h-13zM1446 878h19v6h-19zM621 884h13v6h-13zM1446 884h13v6h-13zM621 890h13v6h-13zM1440 890h13v6h-13zM621 896h13v7h-13zM1434 896h19v7h-19zM628 903h12v6h-12zM1428 903h18v6h-18zM628 909h12v6h-12zM1421 909h19v6h-19zM628 915h12v6h-12zM1415 915h19v6h-19zM628 921h18v7h-18zM1409 921h19v7h-19zM634 928h12v6h-12zM1403 928h18v6h-18zM634 934h12v6h-12zM1396 934h19v6h-19zM640 940h13v6h-13zM934 940h56v6h-56zM1390 940h19v6h-19zM640 946h13v7h-13zM921 946h75v7h-75zM1384 946h19v7h-19zM640 953h19v6h-19zM909 953h25v6h-25zM984 953h19v6h-19zM1378 953h18v6h-18zM646 959h13v6h-13zM903 959h18v6h-18zM990 959h19v6h-19zM1365 959h25v6h-25zM646 965h19v6h-19zM896 965h19v6h-19zM1003 965h18v6h-18zM1353 965h25v6h-25zM653 971h12v7h-12zM890 971h13v7h-13zM1009 971h25v7h-25zM1340 971h31v7h-31zM653 978h12v6h-12zM878 978h18v6h-18zM1021 978h25v6h-25zM1321 978h38v6h-38zM659 984h12v6h-12zM871 984h19v6h-19zM1028 984h31v6h-31zM1134 984h31v6h-31zM1309 984h31v6h-31zM659 990h12v6h-12zM865 990h19v6h-19zM1040 990h144v6h-144zM1296 990h25v6h-25zM659 996h12v7h-12zM859 996h19v7h-19zM1059 996h81v7h-81zM1165 996h31v7h-31zM1284 996h25v7h-25zM659 1003h12v6h-12zM853 1003h18v6h-18zM1178 1003h31v6h-31zM1271 1003h25v6h-25zM665 1009h13v6h-13zM846 1009h19v6h-19zM1190 1009h31v6h-31zM1259 1009h25v6h-25zM665 1015h19v6h-19zM846 1015h13v6h-13zM1203 1015h68v6h-68zM671 1021h19v7h-19zM834 1021h19v7h-19zM1215 1021h50v7h-50zM678 1028h18v6h-18zM828 1028h18v6h-18zM684 1034h19v6h-19zM828 1034h12v6h-12zM690 1040h25v6h-25zM821 1040h13v6h-13zM703 1046h25v7h-25zM815 1046h13v7h-13zM715 1053h25v6h-25zM809 1053h19v6h-19zM728 1059h25v6h-25zM803 1059h18v6h-18zM740 1065h75v6h-75zM753 1071h56v7h-56z" fill="#0000ff"/>
<path d="M353 365h25v6h-25zM328 371h68v7h-68zM315 378h38v6h-38zM378 378h31v6h-31zM309 384h25v6h-25zM390 384h25v6h-25zM303 390h18v6h-18zM403 390h25v6h-25zM303 396h12v7h-12zM415 396h19v7h-19zM421 403h19v6h-19zM428 409h18v6h-18zM434 415h19v6h-19zM440 421h13v7h-13zM446 428h13v6h-13zM453 434h12v6h-12zM453 440h18v6h-18zM459 446h12v7h-12zM465 453h13v6h-13zM465 459h19v6h-19zM471 465h13v6h-13zM478 471h12v7h-12zM478 478h12v6h-12zM484 484h12v6h-12zM484 490h12v6h-12zM490 496h13v7h-13zM490 503h13v6h-13zM490 509h19v6h-19zM496 515h13v6h-13zM496 521h13v7h-13zM496 528h19v6h-19zM503 534h12v6h-12zM503 540h12v6h-12zM509 546h12v7h-12zM509 553h12v6h-12zM509 559h12v6h-12zM515 565h13v6h-13zM515 571h13v7h-13zM515 578h13v6h-13zM521 584h13v6h-13zM521 590h13v6h-13zM521 596h13v7h-13zM528 603h12v6h-12zM528 609h12v6h-12zM528 615h12v6h-12zM528 621h18v7h-18zM534 628h12v6h-12zM534 634h12v6h-12zM534 640h12v6h-12zM540 646h13v7h-13zM540 653h13v6h-13zM1834 653h50v6h-50zM540 659h13v6h-13zM1809 659h81v6h-81zM540 665h19v6h-19zM1790 665h44v6h-44zM546 671h13v7h-13zM1771 671h38v7h-38zM546 678h13v6h-13zM1759 678h31v6h-31zM546 684h13v6h-13zM1753 684h25v6h-25zM546 690h19v6h-19zM1728 690h6v6h-6zM1740 690h25v6h-25zM553 696h12v7h-12zM1690 696h63v7h-63zM553 703h12v6h-12zM1671 703h57v6h-57zM1734 703h6v6h-6zM553 709h12v6h-12zM1665 709h25v6h-25zM553 715h12v6h-12zM1653 715h25v6h-25zM559 721h12v7h-12zM1640 721h25v7h-25zM559 728h12v6h-12zM1628 728h31v6h-31zM559 734h12v6h-12zM1621 734h25v6h-25zM559 740h12v6h-12zM1615 740h19v6h-19zM565 746h13v7h-13zM1603 746h25v7h-25zM565 753h13v6h-13zM1596 753h19v6h-19zM565 759h13v6h-13zM1584 759h25v6h-25zM565 765h13v6h-13zM1578 765h18v6h-18zM571 771h13v7h-13zM1559 771h31v7h-31zM571 778h13v6h-13zM1540 778h38v6h-38zM571 784h13v6h-13zM1521 784h44v6h-44zM571 790h13v6h-13zM1503 790h37v6h-37zM578 796h12v7h-12zM1484 796h37v7h-37zM578 803h12v6h-12zM1471 803h32v6h-32zM578 809h12v6h-12zM1459 809h25v6h-25zM578 815h12v6h-12zM1453 815h18v6h-18zM584 821h12v7h-12zM1446 821h19v7h-19zM584 828h12v6h-12zM1440 828h19v6h-19zM584 834h12v6h-12zM1434 834h19v6h-19zM584 840h12v6h-12zM1421 840h19v6h-19zM590 846h13v7h-13zM1415 846h19v7h-19zM590 853h13v6h-13zM1409 853h19v6h-19zM590 859h13v6h-13zM1403 859h18v6h-18zM596 865h13v6h-13zM1390 865h25v6h-25zM596 871h13v7h-13zM1384 871h25v7h-25zM596 878h13v6h-13zM1371 878h25v6h-25zM596 884h19v6h-19zM1359 884h25v6h-25zM603 890h12v6h-12zM1353 890h25v6h-25zM603 896h12v7h-12zM1340 896h25v7h-25zM609 903h12v6h-12zM1328 903h25v6h-25zM609 909h12v6h-12zM1321 909h19v6h-19zM609 915h19v6h-19zM1309 915h25v6h-25zM615 921h13v7h-13zM1303 921h25v7h-25zM615 928h19v6h-19zM1296 928h19v6h-19zM621 934h13v6h-13zM1284 934h25v6h-25zM621 940h13v6h-13zM1271 940h25v6h-25zM628 946h12v7h-12zM915 946h75v7h-75zM1259 946h31v7h-31zM628 953h12v6h-12zM903 953h118v6h-118zM1240 953h38v6h-38zM634 959h12v6h-12zM896 959h19v6h-19zM990 959h56v6h-56zM1159 959h100v6h-100zM634 965h19v6h-19zM890 965h19v6h-19zM1021 965h38v6h-38zM1146 965h94v6h-94zM640 971h13v7h-13zM884 971h19v7h-19zM1040 971h31v7h-31zM1134 971h25v7h-25zM640 978h19v6h-19zM871 978h25v6h-25zM1053 978h31v6h-31zM1121 978h25v6h-25zM646 984h19v6h-19zM865 984h19v6h-19zM1065 984h69v6h-69zM653 990h18v6h-18zM859 990h19v6h-19zM1084 990h37v6h-37zM659 996h19v7h-19zM853 996h18v7h-18zM665 1003h19v6h-19zM853 1003h12v6h-12zM671 1009h19v6h-19zM846 1009h13v6h-13zM678 1015h25v6h-25zM840 1015h19v6h-19zM684 1021h25v7h-25zM834 1021h19v7h-19zM696 1028h25v6h-25zM821 1028h25v6h-25zM709 1034h31v6h-31zM809 1034h25v6h-25zM721 1040h32v6h-32zM803 1040h25v6h-25zM734 1046h81v7h-81zM753 1053h50v6h-50z" fill="#00ff00"/>
<path d="M303 615h6v6h-6zM303 621h18v7h-18zM309 628h25v6h-25zM321 634h19v6h-19zM328 640h25v6h-25zM340 646h19v7h-19zM1790 646h150v7h-150zM346 653h19v6h-19zM1740 653h200v6h-200zM353 659h18v6h-18zM1678 659h112v6h-112zM359 665h19v6h-19zM1653 665h87v6h-87zM365 671h19v7h-19zM1628 671h50v7h-50zM371 678h13v6h-13zM1596 678h57v6h-57zM378 684h12v6h-12zM1578 684h50v6h-50zM378 690h18v6h-18zM1553 690h43v6h-43zM384 696h19v7h-19zM1534 696h44v7h-44zM390 703h19v6h-19zM1521 703h32v6h-32zM396 709h13v6h-13zM1490 709h50v6h-50zM403 715h12v6h-12zM1465 715h56v6h-56zM403 721h18v7h-18zM1446 721h44v7h-44zM409 728h12v6h-12zM1434 728h31v6h-31zM415 734h13v6h-13zM1421 734h25v6h-25zM415 740h19v6h-19zM1409 740h25v6h-25zM421 746h13v7h-13zM1396 746h25v7h-25zM428 753h12v6h-12zM1378 753h31v6h-31zM428 759h18v6h-18zM1359 759h37v6h-37zM434 765h12v6h-12zM1334 765h50v6h-50zM440 771h13v7h-13zM1321 771h38v7h-38zM440 778h13v6h-13zM1303 778h31v6h-31zM446 784h13v6h-13zM1284 784h37v6h-37zM446 790h13v6h-13zM1190 790h113v6h-113zM453 796h12v7h-12zM1171 796h119v7h-119zM453 803h12v6h-12zM1159 803h37v6h-37zM459 809h12v6h-12zM1146 809h32v6h-32zM459 815h12v6h-12zM1140 815h25v6h-25zM465 821h13v7h-13zM1128 821h25v7h-25zM465 828h19v6h-19zM1121 828h19v6h-19zM471 834h13v6h-13zM1109 834h25v6h-25zM471 840h19v6h-19zM1096 840h25v6h-25zM478 846h12v7h-12zM1084 846h25v7h-25zM478 853h18v6h-18zM1071 853h25v6h-25zM484 859h12v6h-12zM1059 859h31v6h-31zM484 865h12v6h-12zM1046 865h32v6h-32zM490 871h13v7h-13zM953 871h112v7h-112zM490 878h13v6h-13zM940 878h106v6h-106zM496 884h13v6h-13zM928 884h25v6h-25zM496 890h13v6h-13zM921 890h19v6h-19zM503 896h12v7h-12zM915 896h19v7h-19zM503 903h12v6h-12zM909 903h19v6h-19zM503 909h18v6h-18zM903 909h18v6h-18zM509 915h12v6h-12zM896 915h19v6h-19zM509 921h12v7h-12zM890 921h19v7h-19zM515 928h13v6h-13zM884 928h19v6h-19zM515 934h13v6h-13zM878 934h18v6h-18zM515 940h13v6h-13zM871 940h19v6h-19zM521 946h13v7h-13zM865 946h19v7h-19zM521 953h13v6h-13zM865 953h13v6h-13zM521 959h13v6h-13zM859 959h12v6h-12zM528 965h12v6h-12zM846 965h19v6h-19zM528 971h12v7h-12zM846 971h13v7h-13zM528 978h12v6h-12zM840 978h13v6h-13zM534 984h12v6h-12zM840 984h13v6h-13zM534 990h12v6h-12zM834 990h12v6h-12zM534 996h19v7h-19zM828 996h18v7h-18zM540 1003h13v6h-13zM815 1003h19v6h-19zM540 1009h13v6h-13zM815 1009h13v6h-13zM540 1015h19v6h-19zM809 1015h12v6h-12zM546 1021h13v7h-13zM803 1021h18v7h-18zM546 1028h13v6h-13zM796 1028h19v6h-19zM546 1034h19v6h-19zM790 1034h19v6h-19zM553 1040h12v6h-12zM784 1040h19v6h-19zM553 1046h12v7h-12zM778 1046h18v7h-18zM559 1053h12v6h-12zM771 1053h19v6h-19zM559 1059h12v6h-12zM765 1059h19v6h-19zM559 1065h12v6h-12zM765 1065h13v6h-13zM565 1071h13v7h-13zM759 1071h12v7h-12zM565 1078h13v6h-13zM753 1078h12v6h-12zM565 1084h19v6h-19zM746 1084h13v6h-13zM571 1090h13v6h-13zM740 1090h13v6h-13zM578 1096h12v7h-12zM734 1096h19v7h-19zM578 1103h12v6h-12zM728 1103h18v6h-18zM578 1109h18v6h-18zM728 1109h12v6h-12zM584 1115h12v6h-12zM715 1115h19v6h-19zM584 1121h19v7h-19zM715 1121h13v7h-13zM590 1128h19v6h-19zM709 1128h12v6h-12zM596 1134h13v6h-13zM703 1134h18v6h-18zM603 1140h18v6h-18zM696 1140h19v6h-19zM609 1146h25v7h-25zM690 1146h19v7h-19zM621 1153h25v6h-25zM678 1153h25v6h-25zM628 1159h68v6h-68zM646 1165h32v6h-32z" fill="#ff00ff"/>
</g>
<g class="lg" filter="url(#pg)">
<text transform="translate(971 183.7) scale(0.799 1)">Stapled peptide 2</text>
<text transform="translate(971 265.5) scale(0.799 1)">Stapled peptide 3</text>
<text transform="translate(971 351.4) scale(0.799 1)">Stapled peptide 4</text>
<text transform="translate(971 433) scale(0.799 1)">Stapled peptide 5</text>
<text transform="translate(971 520.6) scale(0.799 1)">Stapled peptide 6</text>
<text transform="translate(878 1282.5) scale(0.896 1)">Wavelength (nm)</text>
</g>
<g class="lg" filter="url(#pv)"><g mask="url(#foot2)">
<text transform="translate(133.7 734) rotate(-90) scale(0.875 1)">[θ]<tspan dx="7"> x 10</tspan><tspan dy="-25">3</tspan></text>
</g></g>
<g fill="#000">
<rect x="334.5" y="1397.2" width="1361.3" height="8.8"/>
<rect x="334.5" y="1530" width="1361.3" height="5"/>
<rect x="328.7" y="2160" width="1367.1" height="9"/>
</g>
<text class="th" x="578" y="1506.2" text-anchor="middle" textLength="290" lengthAdjust="spacingAndGlyphs">Peptide</text>
<text class="th" y="1506.5"><tspan x="1020" textLength="71" lengthAdjust="spacingAndGlyphs">%</tspan><tspan x="1089.5" textLength="24" lengthAdjust="spacingAndGlyphs"> </tspan><tspan x="1113.5" font-weight="normal" textLength="52" lengthAdjust="spacingAndGlyphs">α</tspan><tspan x="1165" textLength="334" lengthAdjust="spacingAndGlyphs">-Helicity</tspan></text>
<text class="th" x="578" y="1635.1" text-anchor="middle" style="font-size:84px">2</text>
<text class="td" x="1260" y="1635.1" text-anchor="middle" textLength="400" lengthAdjust="spacingAndGlyphs">10.4 ± 0.1%</text>
<text class="th" x="578" y="1760.0" text-anchor="middle" style="font-size:84px">3</text>
<text class="td" x="1260" y="1760.0" text-anchor="middle" textLength="400" lengthAdjust="spacingAndGlyphs">11.1 ± 0.1%</text>
<text class="th" x="578" y="1885.0" text-anchor="middle" style="font-size:84px">4</text>
<text class="td" x="1260" y="1885.0" text-anchor="middle" textLength="400" lengthAdjust="spacingAndGlyphs">11.8 ± 0.4%</text>
<text class="th" x="578" y="2009.9" text-anchor="middle" style="font-size:84px">5</text>
<text class="td" x="1260" y="2009.9" text-anchor="middle" textLength="400" lengthAdjust="spacingAndGlyphs">10.4 ± 0.3%</text>
<text class="th" x="578" y="2134.8" text-anchor="middle" style="font-size:84px">6</text>
<text class="td" x="1260" y="2134.8" text-anchor="middle" textLength="363" lengthAdjust="spacingAndGlyphs">4.4 ± 0.2%</text>
</svg>
</body>
</html>
